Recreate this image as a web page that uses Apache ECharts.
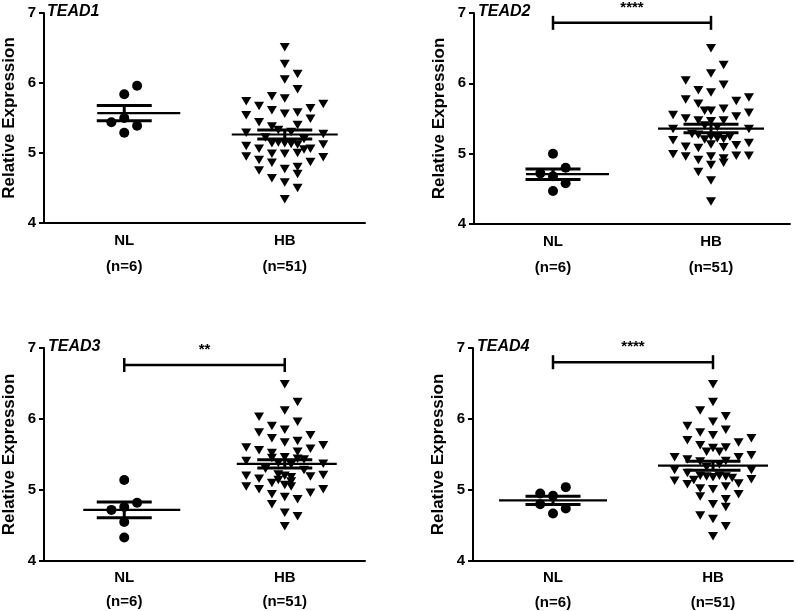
<!DOCTYPE html>
<html><head><meta charset="utf-8">
<script src="https://cdn.jsdelivr.net/npm/echarts@6/dist/echarts.min.js"></script>
<style>html,body{margin:0;padding:0;background:#fff}#c{width:796px;height:611px}</style>
</head><body><div id="c"></div>
<script>
// ---------- data ----------
const categories = ['NL', 'HB'];
const groupSizes = [6, 51];
const genes = ['TEAD1', 'TEAD2', 'TEAD3', 'TEAD4'];
const yTicks = [4, 5, 6, 7];

// NL values and their column (jitter) index
const nl1 = [5.96, 5.84, 5.44, 5.50, 5.39, 5.29];
const nl1Col = [1, 0, -1, 0, 1, 0];
const nl2 = [5.00, 4.72, 4.80, 4.68, 4.58, 4.47];
const nl2Col = [0, -1, 1, 0, 1, 0];
const nl3 = [5.14, 4.82, 4.72, 4.76, 4.55, 4.33];
const nl3Col = [0, 1, -1, 0, 0, 0];
const nl4 = [4.95, 4.92, 5.04, 4.80, 4.74, 4.67];
const nl4Col = [-1, 0, 1, -1, 1, 0];

// HB values and their column (jitter) index
const hb1 = [6.51,6.27,6.13,6.05,5.91,5.81,5.74,5.78,5.67,5.70,
             5.61,5.64,5.54,5.56,5.58,5.44,5.49,5.38,5.40,5.29,
             5.27,5.10,5.06,5.06,5.12,4.95,4.90,4.99,4.99,5.00,
             4.94,4.75,4.86,4.77,4.80,4.87,4.64,4.70,4.58,4.50,
             4.34,5.33,5.30,5.22,5.20,5.15,5.14,5.13,5.14,5.12,5.05];
const hb1Col = [0,0,1,0,1,-1,-3,0,-2,3,
                -1,2,-3,0,1,-2,2,-1,1,-3,
                3,-3,-2,2,3,-3,-2,-1,0,1,
                3,-2,-1,0,1,2,-1,1,0,1,
                0,-0.5,0.5,-1.5,1.5,-0.5,0,0.5,-1,1,1.5];
const hb2 = [6.50,6.26,6.14,6.04,5.98,5.90,5.87,5.77,5.80,5.71,
             5.75,5.64,5.61,5.61,5.55,5.58,5.50,5.53,5.47,5.46,
             5.47,5.35,5.35,5.19,5.10,5.08,5.13,5.09,5.12,5.15,
             4.99,4.96,4.91,4.96,4.93,4.97,4.97,4.74,4.84,4.87,
             4.62,4.32,5.40,5.38,5.28,5.27,5.24,5.22,5.21,5.20,5.24];
const hb2Col = [0,1,0,-2,1,-1,0,-2,3,-1,
                2,1,0,-0.5,-3,3,-2,2,-1,0,
                1,-3,3,-3,-2,-1,0,1,2,3,
                -3,-2,-1,0,1,2,3,-1,0,1,
                0,0,-0.5,0.5,-1.5,-1,0,0.5,1,-0.5,1.5];
const hb3 = [6.49,6.24,6.12,6.03,5.96,5.90,5.85,5.81,5.73,5.77,
             5.67,5.69,5.63,5.60,5.58,5.56,5.52,5.54,5.41,5.37,
             5.20,5.16,5.10,5.19,5.21,5.05,5.01,4.94,5.07,5.05,
             4.96,5.01,4.80,4.90,4.87,4.68,4.63,4.49,5.45,5.46,
             5.44,5.43,5.38,5.36,5.30,5.28,5.22,5.20,5.18,5.14,5.12];
const hb3Col = [0,1,0,-2,1,-1,0,-2,-1,2,
                0,1,3,-3,2,-2,-1,1,-3,3,
                -3,-2,-1,2,3,-3,-2,-1,0,0.5,
                2,3,-1,0,1,0,1,0,-1,0,
                1,1.5,-0.5,0.5,-1.5,1.5,-0.5,0,0.5,-0.5,0.5];
const hb4 = [6.49,6.24,6.12,6.04,5.96,5.90,5.85,5.81,5.77,5.73,
             5.70,5.67,5.63,5.60,5.59,5.54,5.54,5.49,5.46,5.46,
             5.43,5.28,5.28,5.24,5.13,5.08,5.09,5.15,5.02,5.01,
             5.05,4.94,4.91,4.87,4.80,4.76,4.64,4.59,4.49,4.35,
             5.40,5.41,5.36,5.32,5.20,5.19,5.18,5.20,5.19,5.17,5.14];
const hb4Col = [0,0,-1,1,0,-2,1,-1,0,3,
                -2,2,-1,1,0,-0.5,0.5,3,-3,2,
                -2,-3,3,-2,-3,-2,2,3,-1,0,
                1,2,-1,1,0,1,-1,0,1,0,
                -1,1,0.5,-0.5,-1,-0.5,0,0.5,1,1.5,-1.5];

// significance brackets (level on y axis) and labels
const sigLevel = [null, 6.86, 6.76, 6.80];
const sigLabel = ['', '****', '**', '****'];

// ---------- layout / style ----------
const FONT = '"Liberation Sans", Arial, Helvetica, sans-serif';
const INK = '#000';
const grids = [
  {left: 43, top: 13, width: 322, height: 210},
  {left: 474, top: 13, width: 316, height: 211},
  {left: 44, top: 348, width: 321, height: 213},
  {left: 473, top: 348, width: 320, height: 213}
];
const catLineHeight = [13.3, 13.3, 12, 12.2];
const COL_STEP = 0.16;           // column spacing in category units
const GROUP_X = [1, 3];          // centre of NL / HB on the hidden 0..4 axis
const meanHalf = [[[27, 56], [53, 53]], [[27, 56], [53, 53]], [[41, 56], [48, 52]], [[54, 54], [55, 55]]];
const SEM_HALF = 27.5;

const panels = [
  {nl: nl1, nlCol: nl1Col, hb: hb1, hbCol: hb1Col},
  {nl: nl2, nlCol: nl2Col, hb: hb2, hbCol: hb2Col},
  {nl: nl3, nlCol: nl3Col, hb: hb3, hbCol: hb3Col},
  {nl: nl4, nlCol: nl4Col, hb: hb4, hbCol: hb4Col}
];

function meanSem(a) {
  const n = a.length;
  const m = a.reduce((s, v) => s + v, 0) / n;
  const sd = Math.sqrt(a.reduce((s, v) => s + (v - m) * (v - m), 0) / (n - 1));
  return [m, sd / Math.sqrt(n)];
}

const option = {
  animation: false,
  backgroundColor: '#fff',
  textStyle: {fontFamily: FONT},
  title: [], grid: [], xAxis: [], yAxis: [], series: []
};

panels.forEach((p, i) => {
  const g = grids[i];
  option.grid.push(Object.assign({containLabel: false}, g));
  option.title.push({
    text: genes[i], left: g.left + 4, top: g.top - 9, padding: 0,
    textStyle: {fontFamily: FONT, fontStyle: 'italic', fontWeight: 'bold', fontSize: 16, color: INK}
  });
  option.xAxis.push({
    type: 'category', gridIndex: i, data: categories, boundaryGap: true,
    axisLine: {lineStyle: {color: INK, width: 2}},
    axisTick: {show: false},
    axisLabel: {
      interval: 0, margin: 11, fontFamily: FONT, fontWeight: 'bold', fontSize: 15, color: INK,
      lineHeight: catLineHeight[i],
      formatter: (v, idx) => v + '\n\n(n=' + groupSizes[idx] + ')'
    },
    splitLine: {show: false}
  });
  option.xAxis.push({type: 'value', gridIndex: i, min: 0, max: 4, show: false});
  option.yAxis.push({
    type: 'value', gridIndex: i, min: yTicks[0], max: yTicks[yTicks.length - 1], interval: 1,
    name: 'Relative Expression', nameLocation: 'middle', nameGap: 26,
    nameTextStyle: {fontFamily: FONT, fontWeight: 'bold', fontSize: 17, color: INK},
    axisLine: {show: true, lineStyle: {color: INK, width: 2}},
    axisTick: {show: true, length: 5, lineStyle: {color: INK, width: 2}},
    axisLabel: {margin: 8, fontFamily: FONT, fontWeight: 'bold', fontSize: 15, color: INK},
    splitLine: {show: false}
  });
  const xIdx = 2 * i + 1;
  option.series.push({
    type: 'scatter', xAxisIndex: xIdx, yAxisIndex: i, symbol: 'circle', symbolSize: 10,
    itemStyle: {color: INK, opacity: 1},
    data: p.nl.map((v, k) => [GROUP_X[0] + p.nlCol[k] * COL_STEP, v])
  });
  option.series.push({
    type: 'scatter', xAxisIndex: xIdx, yAxisIndex: i, symbol: 'triangle', symbolRotate: 180,
    symbolSize: [10, 8.5], itemStyle: {color: INK, opacity: 1},
    data: p.hb.map((v, k) => [GROUP_X[1] + p.hbCol[k] * COL_STEP, v])
  });
  const ms = [meanSem(p.nl), meanSem(p.hb)];
  option.series.push({
    type: 'custom', xAxisIndex: xIdx, yAxisIndex: i, z: 5, clip: false,
    data: ms.map((d, k) => [GROUP_X[k], d[0], d[1], k]),
    renderItem: (params, api) => {
      const x = api.value(0), m = api.value(1), s = api.value(2), k = api.value(3);
      const c = api.coord([x, m]), t = api.coord([x, m + s]), b = api.coord([x, m - s]);
      const hw = meanHalf[i][k];
      const st = {stroke: INK, lineWidth: 2.2};
      const st2 = {stroke: INK, lineWidth: 3};
      return {type: 'group', children: [
        {type: 'line', shape: {x1: c[0] - hw[0], y1: c[1], x2: c[0] + hw[1], y2: c[1]}, style: st},
        {type: 'line', shape: {x1: t[0] - SEM_HALF, y1: t[1], x2: t[0] + SEM_HALF, y2: t[1]}, style: st2},
        {type: 'line', shape: {x1: b[0] - SEM_HALF, y1: b[1], x2: b[0] + SEM_HALF, y2: b[1]}, style: st2},
        {type: 'line', shape: {x1: t[0], y1: t[1], x2: b[0], y2: b[1]}, style: st2}
      ]};
    }
  });
  if (sigLevel[i] != null) {
    option.series.push({
      type: 'custom', xAxisIndex: xIdx, yAxisIndex: i, z: 5, clip: false,
      data: [[GROUP_X[0], GROUP_X[1], sigLevel[i]]],
      renderItem: (params, api) => {
        const a = api.coord([api.value(0), api.value(2)]);
        const b = api.coord([api.value(1), api.value(2)]);
        const st = {stroke: INK, lineWidth: 2.5};
        return {type: 'group', children: [
          {type: 'line', shape: {x1: a[0], y1: a[1], x2: b[0], y2: b[1]}, style: st},
          {type: 'line', shape: {x1: a[0], y1: a[1] - 7, x2: a[0], y2: a[1] + 7}, style: st},
          {type: 'line', shape: {x1: b[0], y1: b[1] - 7, x2: b[0], y2: b[1] + 7}, style: st},
          {type: 'text', style: {text: sigLabel[i], x: (a[0] + b[0]) / 2, y: a[1] - 15,
            textAlign: 'center', textVerticalAlign: 'middle', fill: INK,
            font: 'bold 15px ' + FONT}}
        ]};
      }
    });
  }
});

const chart = echarts.init(document.getElementById('c'), null, {renderer: 'canvas'});
chart.setOption(option);
</script></body></html>
